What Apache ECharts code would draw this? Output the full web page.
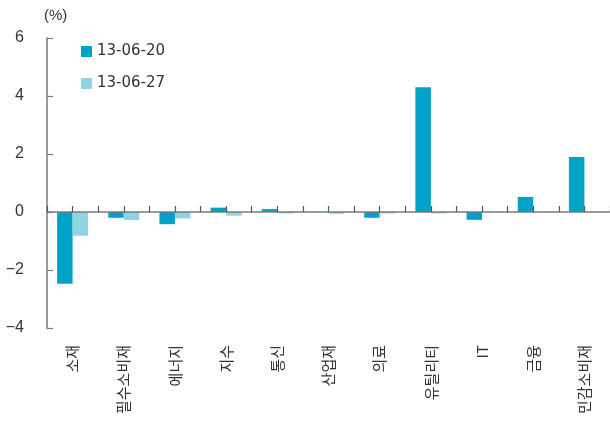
<!DOCTYPE html>
<html>
<head>
<meta charset="utf-8">
<script src="https://cdn.jsdelivr.net/npm/echarts@6/dist/echarts.min.js"></script>
<style>
  html, body { margin: 0; padding: 0; background: #fff; }
  #chart { width: 610px; height: 427px; }
</style>
</head>
<body>
<div id="chart"></div>
<script>
// Sector returns (%) for two weekly snapshots
const sectors = ['소재', '필수소비재', '에너지', '지수', '통신', '산업재', '의료', '유틸리티', 'IT', '금융', '민감소비재'];
const week0620 = [-2.47, -0.2, -0.42, 0.15, 0.1, 0, -0.2, 4.3, -0.27, 0.52, 1.9];
const week0627 = [-0.82, -0.28, -0.22, -0.13, -0.05, -0.06, -0.05, -0.05, 0, 0, 0];
const seriesNames = ['13-06-20', '13-06-27'];
const yTicks = { min: -4, max: 6, interval: 2 };

const font = '"Liberation Sans", "Noto Sans CJK KR", sans-serif';
const axisGray = '#7a7a7a';
const textColor = '#333';

// plot area geometry
const gridTop = 38;
const gridBottom = 99;
const plotHeight = 427 - gridTop - gridBottom;
// distance from the bottom edge up to the zero line
const zeroLift = plotHeight * (0 - yTicks.min) / (yTicks.max - yTicks.min);

const chart = echarts.init(document.getElementById('chart'), null, { renderer: 'canvas' });

chart.setOption({
  animation: false,
  backgroundColor: '#fff',
  textStyle: { fontFamily: font },
  grid: { left: 47, right: -5, top: gridTop, bottom: gridBottom },
  legend: {
    orient: 'vertical',
    left: 76,
    top: 39,
    itemWidth: 11,
    itemHeight: 11,
    itemGap: 17,
    icon: 'rect',
    textStyle: { fontSize: 15, color: textColor, fontFamily: '"DejaVu Sans", sans-serif' },
    data: seriesNames
  },
  graphic: [{
    type: 'text',
    left: 44,
    top: 8,
    style: { text: '(%)', fontSize: 15, fill: textColor, fontFamily: font }
  }],
  xAxis: [
    {
      // zero line with ticks at category boundaries
      type: 'category',
      data: sectors,
      position: 'bottom',
      z: 5,
      axisLine: { onZero: true, lineStyle: { color: axisGray, width: 1.5 } },
      axisTick: { show: true, inside: true, length: 6, interval: 0, lineStyle: { color: '#555', width: 1.2 } },
      axisLabel: { show: false },
      splitLine: { show: false }
    },
    {
      // ticks at category centres, lifted onto the zero line
      type: 'category',
      data: sectors,
      position: 'bottom',
      offset: -zeroLift,
      z: 5,
      axisLine: { show: false, onZero: false },
      axisTick: { show: true, inside: true, alignWithLabel: true, length: 6, interval: 0, lineStyle: { color: '#555', width: 1.2 } },
      axisLabel: { show: false },
      splitLine: { show: false }
    },
    {
      // sector names along the bottom
      type: 'category',
      data: sectors,
      position: 'bottom',
      axisLine: { show: false, onZero: false },
      axisTick: { show: false },
      axisLabel: {
        interval: 0,
        rotate: 90,
        margin: 17,
        fontSize: 15,
        color: textColor,
        fontFamily: '"Noto Sans CJK KR", sans-serif'
      },
      splitLine: { show: false }
    }
  ],
  yAxis: {
    type: 'value',
    min: yTicks.min,
    max: yTicks.max,
    interval: yTicks.interval,
    axisLine: { show: true, lineStyle: { color: axisGray, width: 1.5 } },
    axisTick: { show: true, inside: true, length: 6, lineStyle: { color: axisGray, width: 1.2 } },
    axisLabel: {
      margin: 23,
      fontSize: 16,
      color: textColor,
      fontFamily: font,
      formatter: v => (v < 0 ? '\u2212' + Math.abs(v) : String(v))
    },
    splitLine: { show: false }
  },
  series: [
    {
      name: seriesNames[0],
      type: 'bar',
      xAxisIndex: 0,
      data: week0620,
      barWidth: 15.5,
      barGap: '0%',
      itemStyle: { color: '#00A2C7' }
    },
    {
      name: seriesNames[1],
      type: 'bar',
      xAxisIndex: 0,
      data: week0627,
      barWidth: 15.5,
      barGap: '0%',
      itemStyle: { color: '#8FD4E5' }
    }
  ]
});
</script>
</body>
</html>
